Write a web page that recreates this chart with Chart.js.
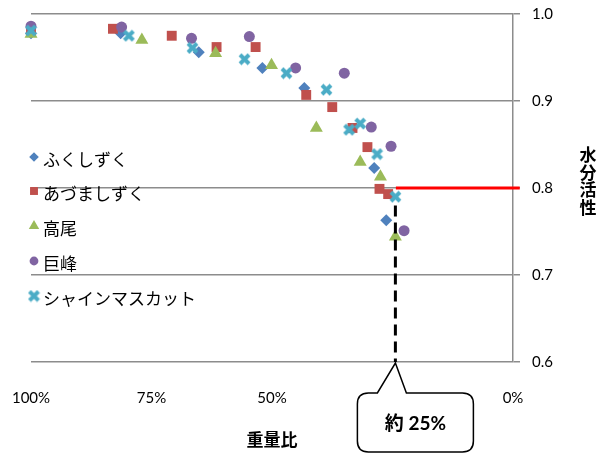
<!DOCTYPE html>
<html>
<head>
<meta charset="utf-8">
<script src="https://cdn.jsdelivr.net/npm/chart.js@4.4.1/dist/chart.umd.min.js"></script>
<style>
  html, body { margin: 0; padding: 0; background: #fff; }
</style>
</head>
<body>
<canvas id="chart" width="601" height="455"></canvas>
<script>
// --- data ---
const seriesNames = ["ふくしずく", "あづましずく", "高尾", "巨峰", "シャインマスカット"];

const fukushizukuX = [100, 81.4, 65.2, 52.0, 43.3, 28.8, 26.3];
const fukushizukuY = [0.978, 0.978, 0.956, 0.938, 0.915, 0.823, 0.763];

const azumashizukuX = [100, 83.0, 70.8, 61.5, 53.4, 42.9, 37.5, 33.3, 30.2, 27.7, 25.9];
const azumashizukuY = [0.980, 0.983, 0.975, 0.962, 0.962, 0.907, 0.893, 0.869, 0.847, 0.799, 0.793];

const takaoX = [100, 77.0, 61.7, 50.1, 40.8, 31.7, 27.5, 24.4];
const takaoY = [0.977, 0.970, 0.955, 0.941, 0.869, 0.830, 0.813, 0.744];

const kyohoX = [100, 81.2, 66.7, 54.7, 45.1, 35.0, 29.4, 25.3, 22.6];
const kyohoY = [0.986, 0.985, 0.972, 0.974, 0.938, 0.932, 0.870, 0.848, 0.751];

const shineX = [100, 79.7, 66.5, 55.7, 47.0, 38.7, 34.0, 31.7, 28.2, 24.4];
const shineY = [0.981, 0.975, 0.961, 0.948, 0.932, 0.913, 0.867, 0.874, 0.839, 0.790];

const xTicks = [100, 75, 50, 25, 0];
const yTicks = [0.6, 0.7, 0.8, 0.9, 1.0];

// reference lines: water activity 0.8 and about 25 % weight
const redLineX = [24.3, -1.4];
const redLineY = [0.8, 0.8];
const dashLineX = [24.4, 24.4];
const dashLineY = [0.78, 0.6];
const calloutText = "約 25%";

const colors = ["#4F81BD", "#C0504D", "#9BBB59", "#8064A2", "#4BACC6"];

function zip(xs, ys) {
  return xs.map((x, i) => ({ x: x, y: ys[i] }));
}

// Excel style thick X marker
function makeCross(color) {
  const c = document.createElement("canvas");
  c.width = 13; c.height = 13;
  const g = c.getContext("2d");
  g.strokeStyle = color;
  g.lineWidth = 4;
  g.beginPath();
  g.moveTo(2, 2); g.lineTo(11, 11);
  g.moveTo(11, 2); g.lineTo(2, 11);
  g.stroke();
  return c;
}
const crossMark = makeCross(colors[4]);

const styles = [
  { pointStyle: "rectRot", radius: 6 },
  { pointStyle: "rect", radius: 7 },
  { pointStyle: "triangle", radius: 7.5 },
  { pointStyle: "circle", radius: 5.5 },
  { pointStyle: crossMark, radius: 6 }
];

const seriesData = [
  zip(fukushizukuX, fukushizukuY),
  zip(azumashizukuX, azumashizukuY),
  zip(takaoX, takaoY),
  zip(kyohoX, kyohoY),
  zip(shineX, shineY)
];

const FONT = "Lato, 'Noto Sans CJK JP', sans-serif";
const JP = "'Noto Sans CJK JP', sans-serif";

const datasets = seriesData.map((d, i) => ({
  label: seriesNames[i],
  data: d,
  pointStyle: styles[i].pointStyle,
  pointRadius: styles[i].radius,
  pointBackgroundColor: colors[i],
  pointBorderWidth: 0,
  borderColor: colors[i],
  clip: false,
  order: 5 - i
}));

datasets.push({
  label: "_red",
  type: "line",
  data: zip(redLineX, redLineY),
  borderColor: "#FF0000",
  borderWidth: 3,
  pointRadius: 0,
  clip: false,
  order: 10
});
datasets.push({
  label: "_dash",
  type: "line",
  data: zip(dashLineX, dashLineY),
  borderColor: "#000",
  borderWidth: 3,
  borderDash: [11, 6],
  pointRadius: 0,
  order: 0
});

// legend, axis titles and the callout
const extras = {
  id: "extras",
  afterDraw(chart) {
    const g = chart.ctx;
    const xs = chart.scales.x, ys = chart.scales.y;
    g.save();

    // legend over the plot
    const rowY = [157, 191, 226, 261, 296];
    seriesNames.forEach((name, i) => {
      g.fillStyle = colors[i];
      Chart.helpers.drawPoint(g, {
        pointStyle: styles[i].pointStyle,
        radius: i === 4 ? 5 : styles[i].radius * 0.8,
        rotation: 0, borderWidth: 0
      }, 34, rowY[i]);
      g.fillStyle = "#000";
      g.font = "17px " + JP;
      g.textBaseline = "middle";
      g.textAlign = "left";
      g.fillText(name, 43, rowY[i] + 3);
    });

    // y title, stacked
    g.font = "bold 17px " + JP;
    g.textAlign = "center";
    g.fillStyle = "#000";
    ["水", "分", "活", "性"].forEach((ch, i) => g.fillText(ch, 588, 155 + i * 17.5));

    // x title
    g.fillText("重量比", 272, 440);

    // callout bubble
    const ax = xs.getPixelForValue(dashLineX[1]);
    const ay = ys.getPixelForValue(dashLineY[1]) + 1;
    const L = ax - 38, R = ax + 78, T = ay + 30, B = ay + 89, r = 11;
    g.beginPath();
    g.moveTo(L + r, T);
    g.lineTo(ax - 18, T);
    g.lineTo(ax, ay);
    g.lineTo(ax + 11, T);
    g.lineTo(R - r, T);
    g.quadraticCurveTo(R, T, R, T + r);
    g.lineTo(R, B - r);
    g.quadraticCurveTo(R, B, R - r, B);
    g.lineTo(L + r, B);
    g.quadraticCurveTo(L, B, L, B - r);
    g.lineTo(L, T + r);
    g.quadraticCurveTo(L, T, L + r, T);
    g.closePath();
    g.fillStyle = "#fff";
    g.fill();
    g.lineWidth = 1.5;
    g.strokeStyle = "#000";
    g.stroke();
    g.fillStyle = "#000";
    g.font = "bold 19px " + FONT;
    g.fillText(calloutText, (L + R) / 2, (T + B) / 2 + 1);

    g.restore();
  }
};

new Chart(document.getElementById("chart").getContext("2d"), {
  type: "scatter",
  data: { datasets: datasets },
  plugins: [extras],
  options: {
    responsive: false,
    animation: false,
    devicePixelRatio: 1,
    layout: { padding: { left: 31, top: 14, right: 0, bottom: 0 } },
    plugins: { legend: { display: false }, tooltip: { enabled: false } },
    scales: {
      x: {
        type: "linear",
        reverse: true,
        min: 0, max: 100,
        afterBuildTicks: s => { s.ticks = xTicks.map(v => ({ value: v })); },
        afterFit: s => {
          s.height = 93;
          s.paddingLeft = 0; s.paddingRight = 0;
        },
        grid: { display: false, drawTicks: false },
        border: { display: false },
        ticks: {
          padding: 27,
          color: "#000",
          font: { family: FONT, size: 15 },
          maxRotation: 0,
          callback: v => v + "%"
        }
      },
      y: {
        position: "right",
        min: 0.6, max: 1.0,
        afterBuildTicks: s => { s.ticks = yTicks.map(v => ({ value: v })); },
        afterFit: s => {
          s.width = 88;
          s.paddingTop = 0; s.paddingBottom = 0;
        },
        grid: { color: "#8c8c8c", lineWidth: 1.5, tickLength: 7 },
        border: { color: "#8c8c8c", width: 1.5 },
        ticks: {
          padding: 12,
          color: "#000",
          font: { family: FONT, size: 15 },
          callback: v => v.toFixed(1)
        }
      }
    }
  }
});
</script>
</body>
</html>
